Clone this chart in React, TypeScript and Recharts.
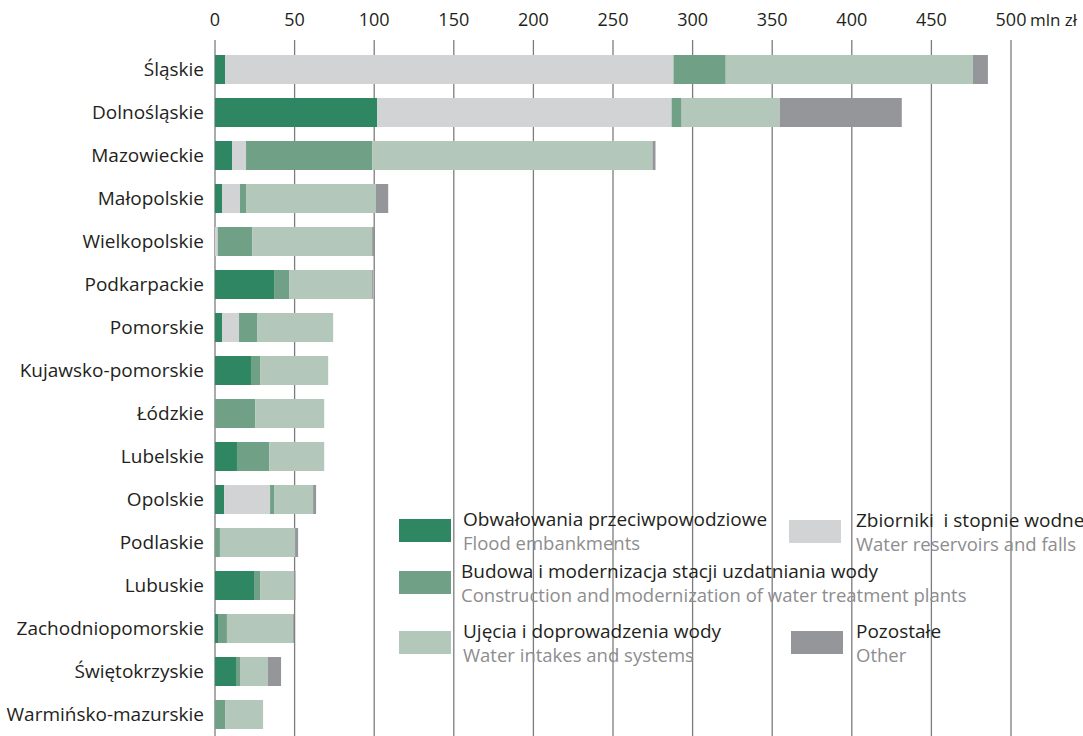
import React from "react";
import { BarChart, Bar, XAxis, YAxis, CartesianGrid } from "recharts";

const regions = [
  "Śląskie",
  "Dolnośląskie",
  "Mazowieckie",
  "Małopolskie",
  "Wielkopolskie",
  "Podkarpackie",
  "Pomorskie",
  "Kujawsko-pomorskie",
  "Łódzkie",
  "Lubelskie",
  "Opolskie",
  "Podlaskie",
  "Lubuskie",
  "Zachodniopomorskie",
  "Świętokrzyskie",
  "Warmińsko-mazurskie",
];

const flood = [6.3, 101.9, 10.7, 4.4, 0, 37.1, 4.4, 22.6, 0, 13.8, 5.7, 0, 24.5, 1.9, 13.2, 0];
const reservoirs = [281.7, 184.9, 8.8, 11.3, 1.7, 0, 10.7, 0, 0, 0, 28.9, 0, 0, 0, 0, 0];
const treatment = [32.8, 6.3, 79.2, 3.8, 21.6, 9.4, 11.3, 5.7, 25.2, 20.2, 2.5, 3.1, 3.8, 5.6, 2.5, 6.3];
const intakes = [155.3, 61.6, 176.1, 81.6, 75.4, 52.2, 47.8, 42.8, 43.4, 34.6, 24.5, 47.2, 21.4, 41.6, 17.6, 23.9];
const other = [9.4, 76.7, 1.9, 7.7, 1.3, 0.7, 0, 0, 0, 0, 1.9, 1.9, 0.8, 0.6, 8.2, 0];

const xTicks = [0, 50, 100, 150, 200, 250, 300, 350, 400, 450, 500];

const series = [
  { key: "flood", color: "#2f8663", pl: "Obwałowania przeciwpowodziowe", en: "Flood embankments" },
  { key: "reservoirs", color: "#d2d3d5", pl: "Zbiorniki  i stopnie wodne", en: "Water reservoirs and falls" },
  { key: "treatment", color: "#70a085", pl: "Budowa i modernizacja stacji uzdatniania wody", en: "Construction and modernization of water treatment plants" },
  { key: "intakes", color: "#b3c8bb", pl: "Ujęcia i doprowadzenia wody", en: "Water intakes and systems" },
  { key: "other", color: "#959699", pl: "Pozostałe", en: "Other" },
];

const data = regions.map((name, i) => ({
  name,
  flood: flood[i],
  reservoirs: reservoirs[i],
  treatment: treatment[i],
  intakes: intakes[i],
  other: other[i],
}));

const FONT = "'Open Sans', sans-serif";
const GRID = "#7d7d7f";

const TopTick = (props: any) => {
  const { x, y, payload } = props;
  return (
    <g>
      <text x={x} y={y} textAnchor="middle" fontSize={18} fill="#231f20" fontFamily={FONT}>
        {payload.value}
      </text>
      {payload.value === 500 && (
        <text x={x + 19} y={y} textAnchor="start" fontSize={17} fill="#231f20" fontFamily={FONT}>
          mln zł
        </text>
      )}
    </g>
  );
};

// legend placement: [swatch left, swatch top, text left]
const legendPos: Record<string, [number, number, number]> = {
  flood: [399, 519, 463],
  reservoirs: [789, 520, 856],
  treatment: [399, 571, 461],
  intakes: [399, 631, 463],
  other: [791, 631, 856],
};

const LegendBox = () => (
  <>
    {series.map((s) => {
      const [sx, sy, tx] = legendPos[s.key];
      return (
        <React.Fragment key={s.key}>
          <div style={{ position: "absolute", left: sx, top: sy, width: 52, height: 23, background: s.color }} />
          <div
            style={{
              position: "absolute",
              left: tx,
              top: sy - 11,
              fontFamily: FONT,
              fontSize: 19,
              lineHeight: "23px",
              color: "#231f20",
              whiteSpace: "pre",
            }}
          >
            {s.pl}
            <div style={{ color: "#8d8d8f", fontSize: 18.5 }}>{s.en}</div>
          </div>
        </React.Fragment>
      );
    })}
  </>
);

export default function App() {
  return (
    <div style={{ position: "absolute", left: 0, top: 0, width: 1083, height: 736, background: "#fff" }}>
      <BarChart
        width={1083}
        height={736}
        data={data}
        layout="vertical"
        margin={{ top: 0, right: 72, bottom: 0, left: 0 }}
        barCategoryGap={7}
      >
        <CartesianGrid horizontal={false} stroke={GRID} strokeWidth={1.3} />
        <XAxis
          type="number"
          orientation="top"
          domain={[0, 500]}
          ticks={xTicks}
          height={48}
          axisLine={false}
          tickSize={8}
          tickMargin={14}
          tickLine={{ stroke: GRID, strokeWidth: 1.3 }}
          tick={<TopTick />}
          interval={0}
        />
        <YAxis
          type="category"
          dataKey="name"
          width={215}
          axisLine={false}
          tickLine={false}
          tickSize={0}
          tickMargin={11}
          interval={0}
          tick={{ fontSize: 19, fill: "#231f20", fontFamily: FONT }}
        />
        {series.map((s) => (
          <Bar key={s.key} dataKey={s.key} stackId="a" fill={s.color} isAnimationActive={false} />
        ))}
      </BarChart>
      <LegendBox />
    </div>
  );
}
